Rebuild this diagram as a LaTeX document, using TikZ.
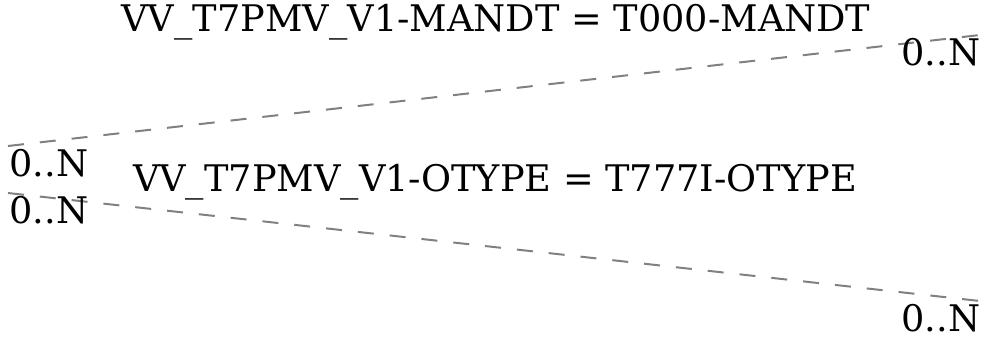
\documentclass[tikz,border=0pt]{standalone}
\usepackage{fontspec}
\setmainfont{DejaVu Serif}
\begin{document}
\begin{tikzpicture}[x=1bp,y=-1bp,
  lbl/.style={inner sep=0pt,font=\fontsize{36.8}{40}\selectfont},
  rel/.style={draw=gray,line width=2bp,dash pattern=on 16bp off 16bp}]
\useasboundingbox (0,0) rectangle (989,340);
\coordinate (a1) at (8,146);
\coordinate (b1) at (980,35);
\coordinate (a2) at (8,193);
\coordinate (b2) at (980,301);
\draw[rel] (a1) -- (b1);
\draw[rel] (a2) -- (b2);
\node[lbl] (t1) at (496,22) {VV\_T7PMV\_V1-MANDT = T000-MANDT};
\node[lbl] (t2) at (495,182) {VV\_T7PMV\_V1-OTYPE = T777I-OTYPE};
\node[lbl] (l1) at (49,163) {0..N};
\node[lbl] (l2) at (49,210) {0..N};
\node[lbl] (r1) at (941,52) {0..N};
\node[lbl] (r2) at (941,318) {0..N};
\end{tikzpicture}
\end{document}
